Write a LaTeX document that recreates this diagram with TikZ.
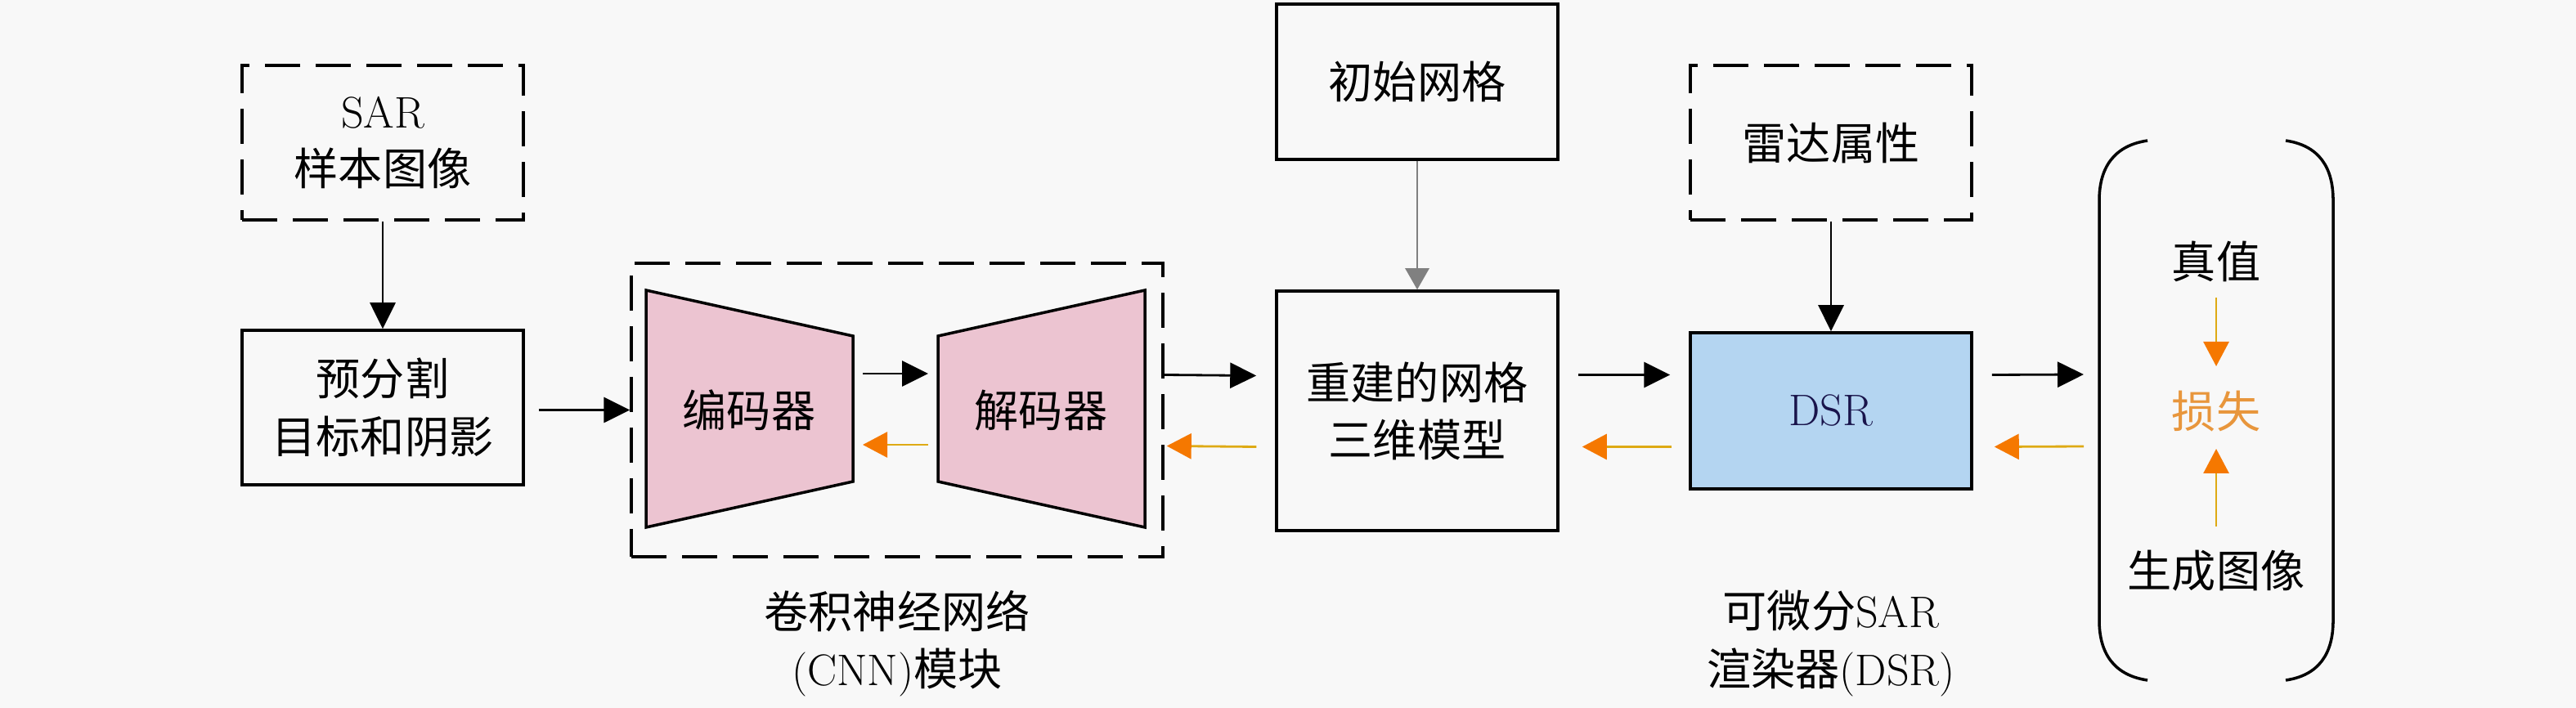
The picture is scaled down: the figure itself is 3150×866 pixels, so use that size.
\documentclass[tikz,border=0pt]{standalone}
\usepackage{fontspec}
\newfontfamily\cjk{Noto Sans CJK SC}
\newcommand\latn[1]{{\rmfamily #1}}
\usetikzlibrary{arrows.meta,calc}
\definecolor{bg}{RGB}{248,248,248}
\definecolor{pinkfill}{RGB}{236,196,209}
\definecolor{dsrblue}{RGB}{180,213,241}
\definecolor{dsrtext}{RGB}{25,20,75}
\definecolor{goldline}{RGB}{222,170,20}
\definecolor{tiporange}{RGB}{245,120,0}
\definecolor{losscol}{RGB}{232,150,60}
\begin{document}
\begin{tikzpicture}[x=0.1mm,y=-0.1mm,
  every node/.style={font=\fontsize{15.4pt}{20pt}\selectfont\cjk, align=center},
  box/.style={draw=black, line width=1pt, minimum width=34.4mm, minimum height=18.9mm, inner sep=0pt},
  dbox/.style={box, dash pattern=on 4.3mm off 1.9mm},
  fwd/.style={draw=black, line width=0.8pt, -{Triangle[length=3.2mm,width=3.1mm]}},
  gfwd/.style={draw=gray, line width=0.8pt, -{Triangle[length=2.6mm,width=2.9mm]}},
  bwd/.style={draw=goldline, line width=0.8pt, -{Triangle[length=3.0mm,width=3.1mm,color=tiporange,fill=tiporange]}},
  trap/.style={draw=black, line width=1pt, fill=pinkfill, line join=miter},
  paren/.style={draw=black, line width=1pt},
]
\useasboundingbox[fill=bg] (0,0) rectangle (3150,866);

% left column
\node[dbox] (sar) at (468,174.5) {\latn{SAR}\\样本图像};
\node[box] (pre) at (468,498.5) {预分割\\目标和阴影};

% CNN module
\node[dbox, minimum width=65mm, minimum height=35.9mm] (cnn) at (1097,501.5) {};
\path[trap] (790,355) -- (1043,411) -- (1043,589) -- (790,645) -- cycle;
\node (enc) at (916,502) {编码器};
\path[trap] (1147,411) -- (1400,355) -- (1400,645) -- (1147,589) -- cycle;
\node (dec) at (1273,502) {解码器};
\coordinate (encR) at (1043,502);
\coordinate (decL) at (1147,502);
\node (cnnlbl) at (1097,787) {卷积神经网络\\\latn{(CNN)}模块};

% mesh column
\node[box, minimum height=19mm] (init) at (1733,100) {初始网格};
\node[box, minimum height=29.3mm] (mesh) at (1733,502.5) {重建的网格\\三维模型};

% DSR column
\node[dbox] (radar) at (2239,174.5) {雷达属性};
\node[box, fill=dsrblue, text=dsrtext, minimum height=19.1mm] (dsr) at (2239,502.5) {\latn{DSR}};
\node (dsrlbl) at (2239,787) {可微分\latn{SAR}\\渲染器\latn{(DSR)}};

% bracket
\coordinate (brL) at (2567,502);
\coordinate (brR) at (2853,502);
\draw[paren] (2626,172) .. controls (2585,178) and (2567,205) .. (2567,245) -- (2567,759) .. controls (2567,799) and (2585,826) .. (2626,832);
\draw[paren] (2795,172) .. controls (2836,178) and (2853,205) .. (2853,245) -- (2853,759) .. controls (2853,799) and (2836,826) .. (2795,832);
\node (gt) at (2710,320) {真值};
\node[text=losscol] (loss) at (2710,503) {损失};
\node (gen) at (2710,698) {生成图像};

% connectors
\draw[fwd] (sar) -- (pre);
\draw[fwd] ($(pre.east)+(17,3)$) -- ($(cnn.west)+(0,0)$);
\draw[fwd] ($(encR)+(12,-45)$) -- ($(decL)+(-12,-45)$);
\draw[bwd] ($(decL)+(-12,42)$) -- ($(encR)+(12,42)$);
\draw[fwd] ($(cnn.east)+(0,-43)$) -- ($(mesh.west)+(-23,-43)$);
\draw[bwd] ($(mesh.west)+(-23,44)$) -- ($(cnn.east)+(3,44)$);
\draw[fwd] ($(mesh.east)+(23,-44)$) -- ($(dsr.west)+(-23,-44)$);
\draw[bwd] ($(dsr.west)+(-21,44)$) -- ($(mesh.east)+(28,44)$);
\draw[fwd] ($(dsr.east)+(23,-44)$) -- ($(brL)+(-19,-44)$);
\draw[bwd] ($(brL)+(-19,44)$) -- ($(dsr.east)+(26,44)$);
\draw[gfwd] (init) -- (mesh);
\draw[fwd] (radar) -- (dsr);
\draw[bwd] ($(gt)+(0,44)$) -- ($(loss)+(0,-55)$);
\draw[bwd] ($(gen)+(0,-54)$) -- ($(loss)+(0,46)$);
\end{tikzpicture}
\end{document}
